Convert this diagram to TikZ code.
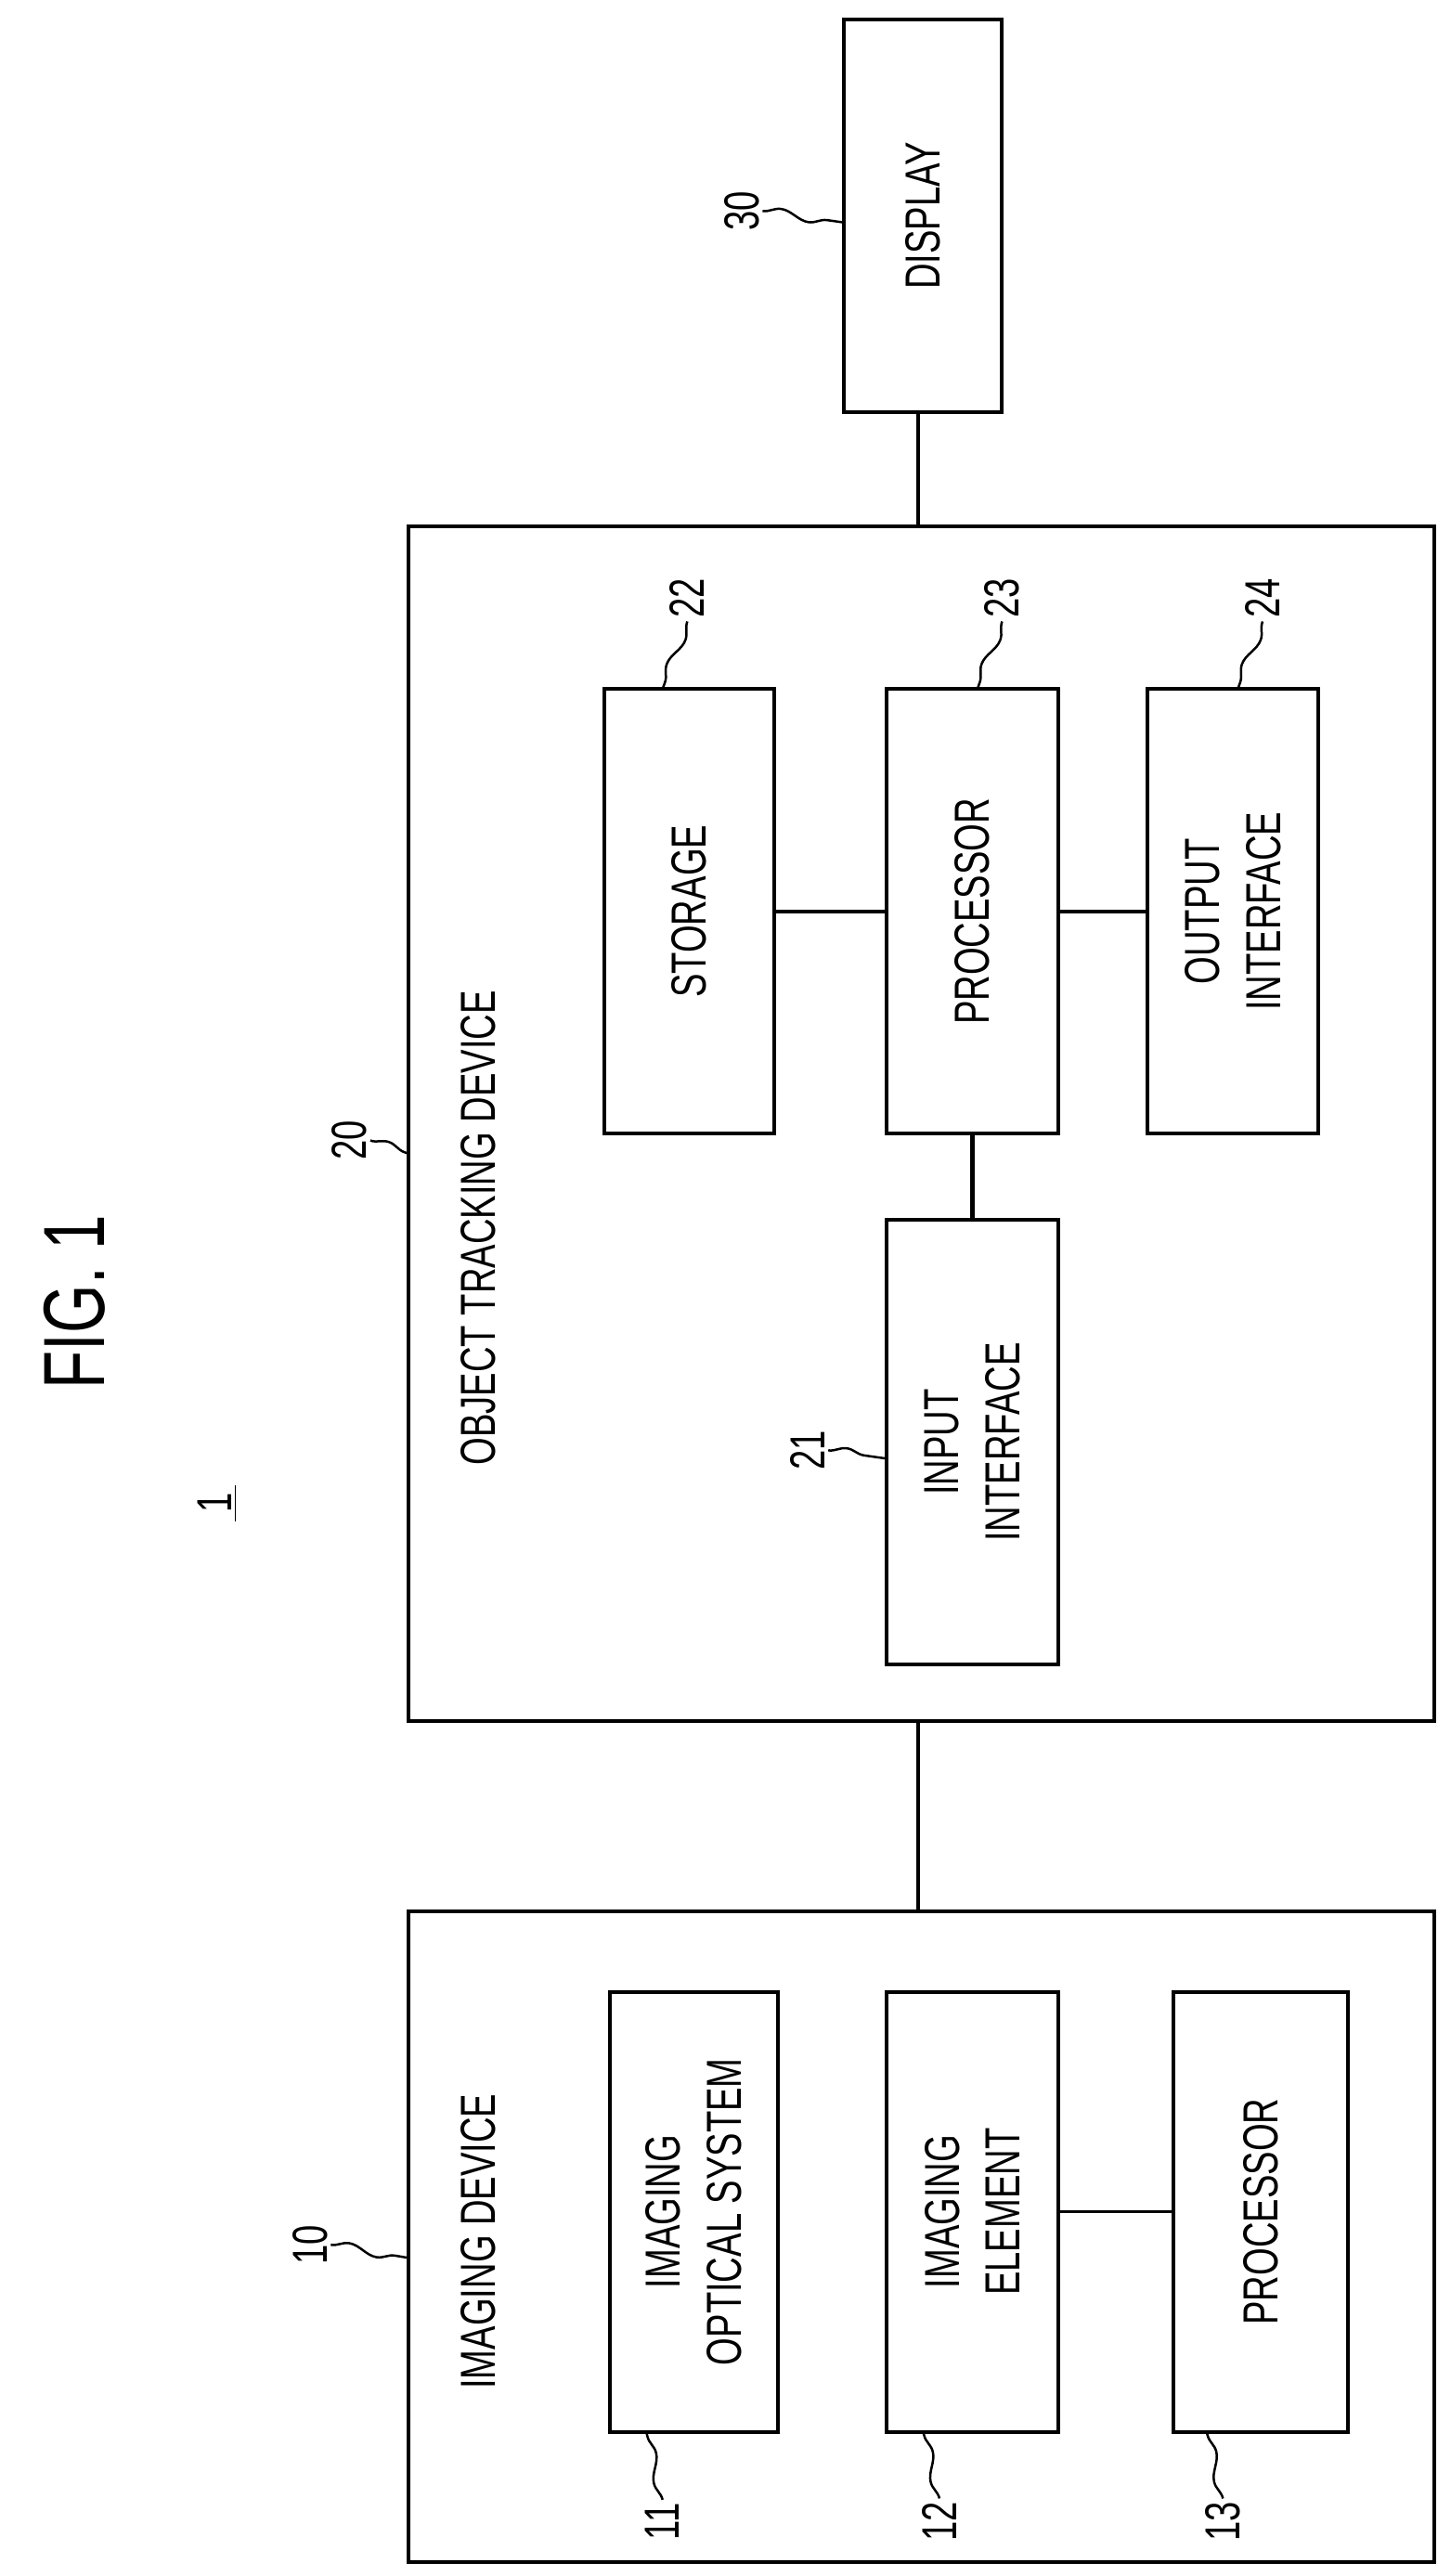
\documentclass[tikz,border=0pt]{standalone}
\usepackage{fontspec}
\setmainfont[FakeStretch=0.72]{Liberation Sans}
\usetikzlibrary{decorations.pathmorphing}
\tikzstyle{block} = [draw, line width=1.3pt, rectangle, text centered, inner sep=0pt]
\tikzstyle{txt} = [rotate=90, align=center, font=\fontsize{17}{21}\selectfont]
\tikzstyle{num} = [rotate=90, font=\fontsize{17}{21}\selectfont, inner sep=1pt]
\tikzstyle{lead} = [draw, line width=0.8pt, decorate, decoration={snake, amplitude=1.6pt, segment length=20pt}]
\tikzstyle{line} = [draw, line width=1.3pt]
\begin{document}
\begin{tikzpicture}[x=0.02cm, y=-0.02cm]
        \useasboundingbox (0,0) rectangle (880,1563);
        \node[txt, font=\fontsize{30}{34}\selectfont] (fig) at (45,790) {FIG. 1};
        \node[num] (sys) at (132,912) {\underline{\,1\,}};
        \coordinate (bus) at (557,0);
        % display
        \node[block, minimum width=4.76cm, minimum height=1.92cm, rotate=90] (disp) at (560,131) {};
        \node[txt] (dispt) at (disp.center) {DISPLAY};
        \node[num] (n30) at (450,128) {30};
        \path[lead] (n30.south) -- (512,135);
        % object tracking device
        \node[block, minimum width=14.5cm, minimum height=12.44cm, rotate=90] (otd) at (559,682) {};
        \node[txt] (otdt) at (290,745) {OBJECT TRACKING DEVICE};
        \node[num] (n20) at (212,692) {20};
        \path[lead] (n20.south) -- (248,700);
        \node[block, minimum width=5.4cm, minimum height=2.06cm, rotate=90] (stor) at (418,553) {};
        \node[txt] at (stor.center) {STORAGE};
        \node[block, minimum width=5.4cm, minimum height=2.08cm, rotate=90] (proc) at (590,553) {};
        \node[txt] at (proc.center) {PROCESSOR};
        \node[block, minimum width=5.4cm, minimum height=2.08cm, rotate=90] (outi) at (748,553) {};
        \node[txt] at (outi.center) {OUTPUT\\INTERFACE};
        \node[block, minimum width=5.4cm, minimum height=2.08cm, rotate=90] (inpi) at (590,875) {};
        \node[txt] at (inpi.center) {INPUT\\INTERFACE};
        \node[num] (n22) at (417,363) {22};
        \path[lead] (n22.west) -- (402,418);
        \node[num] (n23) at (608,363) {23};
        \path[lead] (n23.west) -- (593,418);
        \node[num] (n24) at (766,363) {24};
        \path[lead] (n24.west) -- (751,418);
        \node[num] (n21) at (490,880) {21};
        \path[lead] (n21.south) -- (538,885);
        % imaging device
        \node[block, minimum width=7.9cm, minimum height=12.44cm, rotate=90] (imd) at (559,1357) {};
        \node[txt] (imdt) at (290,1360) {IMAGING DEVICE};
        \node[num] (n10) at (188,1362) {10};
        \path[lead] (n10.south) -- (248,1370);
        \node[block, minimum width=5.34cm, minimum height=2.04cm, rotate=90] (opt) at (421,1342) {};
        \node[txt] at (opt.center) {IMAGING\\OPTICAL SYSTEM};
        \node[block, minimum width=5.34cm, minimum height=2.08cm, rotate=90] (elem) at (590,1342) {};
        \node[txt] at (elem.center) {IMAGING\\ELEMENT};
        \node[block, minimum width=5.34cm, minimum height=2.12cm, rotate=90] (proc2) at (765,1342) {};
        \node[txt] at (proc2.center) {PROCESSOR};
        \node[num] (n11) at (402,1530) {11};
        \path[lead] (n11.east) -- (392,1475);
        \node[num] (n12) at (570,1530) {12};
        \path[lead] (n12.east) -- (560,1475);
        \node[num] (n13) at (742,1530) {13};
        \path[lead] (n13.east) -- (732,1475);
        % connections
        \path[line] (disp.west -| bus) -- (otd.east -| bus);
        \path[line] (otd.west -| bus) -- (imd.east -| bus);
        \path[line] (stor) -- (proc);
        \path[line] (proc) -- (outi);
        \path[line] (proc) -- (inpi);
        \path[line, line width=0.8pt] (elem) -- (proc2);
    \end{tikzpicture}
\end{document}
